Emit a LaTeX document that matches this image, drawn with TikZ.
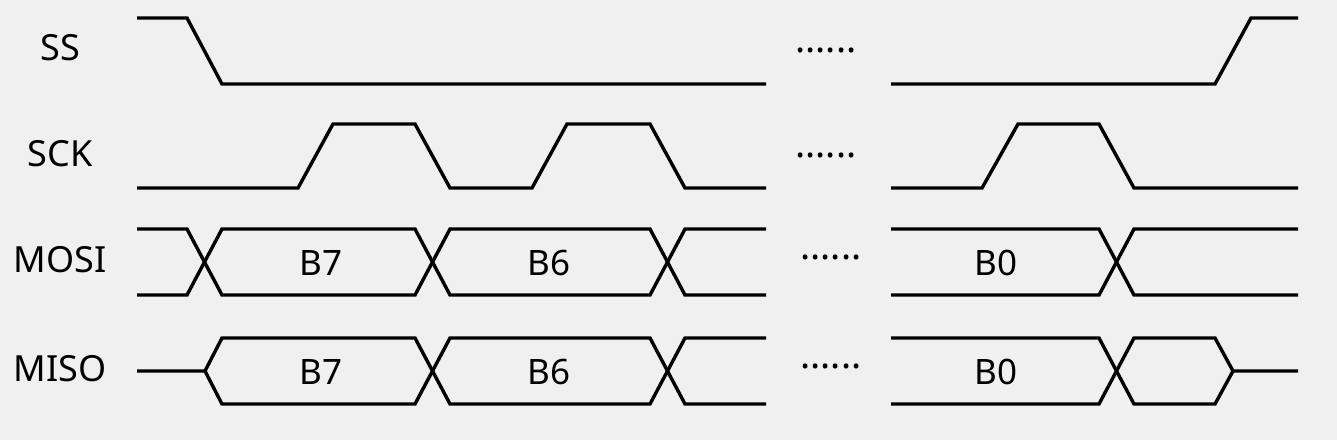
\documentclass[tikz,border=0pt]{standalone}
\usepackage{fontspec}
\setmainfont{Noto Sans}
\usepackage{xcolor}
\usepackage{tikz}
\usetikzlibrary{positioning}
\definecolor{bgray}{HTML}{F0F0F0}

\begin{document}
\begin{tikzpicture}[
  x=0.5pt, y=-0.5pt,
  wave/.style={line width=1.7pt, black},
  sig/.style={font=\fontsize{18}{22}\selectfont, inner sep=0pt},
  bits/.style={font=\fontsize{17.5}{22}\selectfont, inner sep=0pt},
  gap/.style={font=\fontsize{19}{22}\selectfont, inner sep=0pt, anchor=base west}]
\fill[bgray] (0,0) rectangle (1337,440);
% ---- signal names ----
\node[sig] (ss)   at (60,48)  {SS};
\node[sig] (sck)  at (60,154) {SCK};
\node[sig] (mosi) at (60,260) {MOSI};
\node[sig] (miso) at (60,369) {MISO};
% ---- SS ----
\draw[wave] (137,18) -- (187,18) -- (222,84) -- (766,84);
\draw[wave] (891,84) -- (1215,84) -- (1251,18) -- (1298,18);
% ---- SCK ----
\draw[wave] (137,188) -- (298,188) -- (333,124) -- (415,124) -- (450,188)
  -- (532,188) -- (567,124) -- (650,124) -- (685,188) -- (766,188);
\draw[wave] (891,188) -- (982,188) -- (1018,124) -- (1099,124) -- (1134,188)
  -- (1298,188);
% ---- MOSI ----
\draw[wave] (137,229) -- (187,229) -- (222,295) -- (415,295) -- (450,229)
  -- (650,229) -- (685,295) -- (766,295);
\draw[wave] (137,295) -- (187,295) -- (222,229) -- (415,229) -- (450,295)
  -- (650,295) -- (685,229) -- (766,229);
\draw[wave] (891,229) -- (1099,229) -- (1134,295) -- (1298,295);
\draw[wave] (891,295) -- (1099,295) -- (1134,229) -- (1298,229);
\node[bits] (mosib7) at (321,263) {B7};
\node[bits] (mosib6) at (549,263) {B6};
\node[bits] (mosib0) at (996,263) {B0};
% ---- MISO ----
\draw[wave] (137,371) -- (205,371) -- (222,338) -- (415,338) -- (450,404)
  -- (650,404) -- (685,338) -- (766,338);
\draw[wave] (205,371) -- (222,404) -- (415,404) -- (450,338) -- (650,338)
  -- (685,404) -- (766,404);
\draw[wave] (891,338) -- (1099,338) -- (1134,404) -- (1215,404) -- (1233,371)
  -- (1298,371);
\draw[wave] (891,404) -- (1099,404) -- (1134,338) -- (1215,338) -- (1233,371);
\node[bits] (misob7) at (321,372) {B7};
\node[bits] (misob6) at (549,372) {B6};
\node[bits] (misob0) at (996,372) {B0};
% ---- skipped bits ----
\node[gap] (gss)   at (795,52)  {......};
\node[gap] (gsck)  at (795,157) {......};
\node[gap] (gmosi) at (800,259) {......};
\node[gap] (gmiso) at (800,368) {......};
\end{tikzpicture}
\end{document}
